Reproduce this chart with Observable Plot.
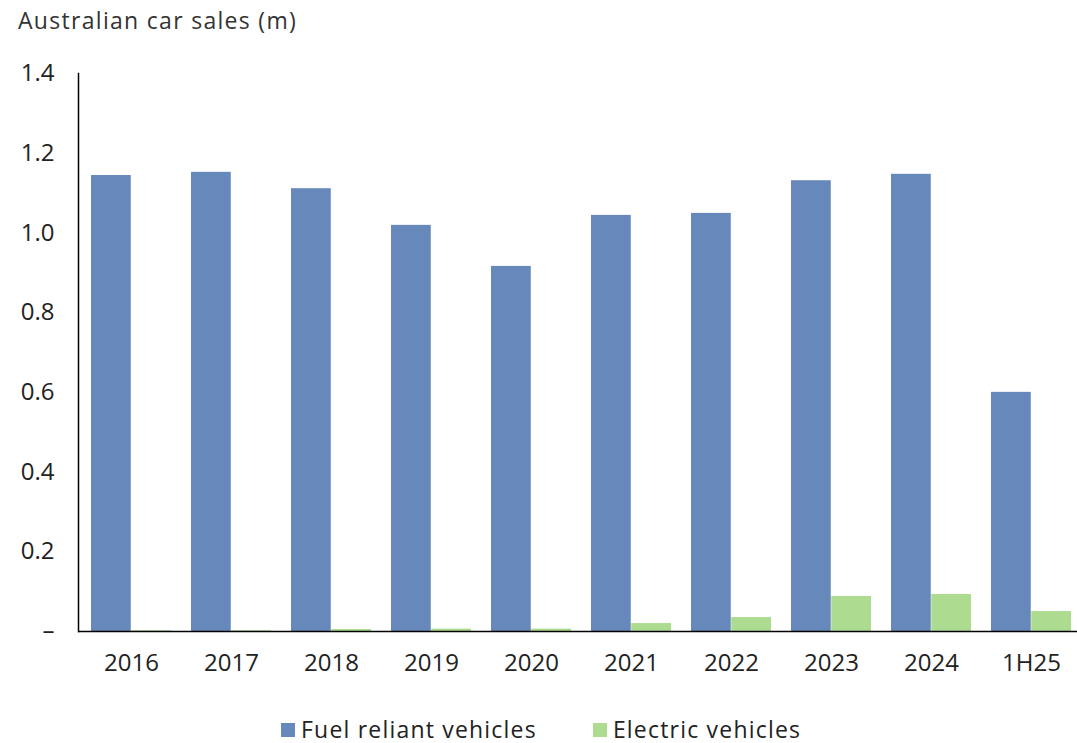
<!DOCTYPE html>
<html>
<head>
<meta charset="utf-8">
<script src="https://cdn.jsdelivr.net/npm/d3@7"></script>
<script src="https://cdn.jsdelivr.net/npm/@observablehq/plot@0.6"></script>
<style>
  html, body { margin: 0; padding: 0; background: #fff; }
  body { width: 1077px; height: 743px; position: relative; overflow: hidden; font-family: "Open Sans", "Lato", sans-serif; color: #222; }
  #title { position: absolute; left: 18px; top: 4px; font-size: 23px; color: #333; letter-spacing: 1.3px; }
  #chart { position: absolute; left: 0; top: 40px; }
  #legend { position: absolute; left: 281px; top: 713px; display: flex; font-size: 23px; color: #222; letter-spacing: 1.2px; }
  #legend span.item { display: flex; align-items: center; gap: 6px; }
  #legend span.item + span.item { margin-left: 56px; }
  #legend span.sw { display: inline-block; width: 14px; height: 14px; margin-top: 2px; }
</style>
</head>
<body>
<div id="title">Australian car sales (m)</div>
<div id="chart"></div>
<div id="legend"></div>
<script>
const categories = ["2016", "2017", "2018", "2019", "2020", "2021", "2022", "2023", "2024", "1H25"];
const seriesNames = ["Fuel reliant vehicles", "Electric vehicles"];
const fuelValues = [1.144, 1.152, 1.111, 1.019, 0.916, 1.044, 1.049, 1.131, 1.147, 0.600];
const electricValues = [0.002, 0.002, 0.005, 0.006, 0.006, 0.020, 0.035, 0.088, 0.093, 0.050];
const yTicks = [0, 0.2, 0.4, 0.6, 0.8, 1.0, 1.2, 1.4];
const colors = ["#6788bb", "#addc91"];

const fuelData = categories.map((c, i) => ({category: c, value: fuelValues[i]}));
const elecData = categories.map((c, i) => ({category: c, value: electricValues[i]}));

const bandwidth = (1084 - 78) / 10 * 0.8;
const half = bandwidth / 2;

const plot = Plot.plot({
  width: 1077,
  height: 660,
  marginLeft: 78,
  marginRight: 0,
  marginTop: 33,
  marginBottom: 69,
  style: {fontFamily: "'Open Sans', Lato, sans-serif", fontSize: "24px", color: "#222", background: "#fff"},
  x: {domain: categories, range: [78, 1084], paddingInner: 0.2, paddingOuter: 0.1, label: null},
  y: {domain: [0, 1.4], label: null},
  marks: [
    Plot.barY(fuelData, {x: "category", y: "value", fill: colors[0], insetRight: half}),
    Plot.barY(elecData, {x: "category", y: "value", fill: colors[1], insetLeft: half}),
    Plot.axisY({ticks: yTicks, tickSize: 0, tickPadding: 24, tickFormat: d => d === 0 ? "–" : d.toFixed(1), fontSize: 24}),
    Plot.axisX({tickSize: 0, tickPadding: 22, fontSize: 24}),
    Plot.frame({anchor: "left", stroke: "#000", strokeWidth: 1.5}),
    Plot.ruleY([0], {stroke: "#000", strokeWidth: 1.5})
  ]
});
document.getElementById("chart").appendChild(plot);

const legend = document.getElementById("legend");
seriesNames.forEach((name, i) => {
  const item = document.createElement("span");
  item.className = "item";
  const sw = document.createElement("span");
  sw.className = "sw";
  sw.style.background = colors[i];
  item.appendChild(sw);
  item.appendChild(document.createTextNode(name));
  legend.appendChild(item);
});
</script>
</body>
</html>
